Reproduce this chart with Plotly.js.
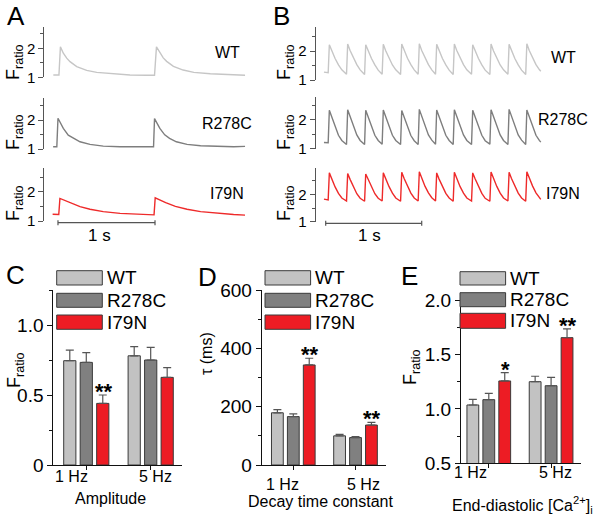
<!DOCTYPE html>
<html>
<head>
<meta charset="utf-8">
<script src="https://cdn.plot.ly/plotly-3.0.1.min.js"></script>
<style>html,body{margin:0;padding:0;background:#fff}#chart{width:601px;height:521px}</style>
</head>
<body>
<div id="chart"></div>
<script>
// ---------------- DATA ----------------
// Panel A: 1 Hz Ca transients (time in s, F ratio)
const tA_WT   = [-0.048, 0.010, 0.025, 0.055, 0.090, 0.124, 0.193, 0.296, 0.399, 0.570, 0.742, 0.914, 0.995, 1.015, 1.050, 1.085, 1.120, 1.190, 1.290, 1.400, 1.570, 1.740, 1.928];
const fA_WT   = [1.08, 1.08, 2.05, 1.83, 1.66, 1.54, 1.37, 1.24, 1.17, 1.12, 1.08, 1.07, 1.07, 2.05, 1.84, 1.67, 1.55, 1.38, 1.25, 1.17, 1.12, 1.09, 1.07];
const tA_R278C = [-0.050, -0.012, 0.000, 0.020, 0.055, 0.106, 0.158, 0.227, 0.330, 0.467, 0.640, 0.810, 0.985, 0.995, 1.015, 1.050, 1.100, 1.150, 1.220, 1.330, 1.470, 1.640, 1.810, 1.928];
const fA_R278C = [1.08, 1.08, 2.06, 1.94, 1.71, 1.48, 1.37, 1.25, 1.16, 1.10, 1.08, 1.08, 1.08, 2.05, 1.94, 1.71, 1.49, 1.37, 1.25, 1.16, 1.11, 1.09, 1.08, 1.09];
const tA_I79N = [-0.055, 0.008, 0.020, 0.055, 0.124, 0.227, 0.330, 0.467, 0.640, 0.810, 0.990, 1.002, 1.040, 1.110, 1.210, 1.330, 1.470, 1.640, 1.810, 1.928];
const fA_I79N = [1.23, 1.22, 1.77, 1.72, 1.62, 1.49, 1.40, 1.32, 1.26, 1.23, 1.21, 1.79, 1.73, 1.63, 1.50, 1.40, 1.32, 1.26, 1.22, 1.20];

// Panel B: 5 Hz Ca transients (shared time base)
const tB = [-0.018,
  0.026,0.038,0.063,0.098,0.133,0.168,
  0.217,0.229,0.254,0.289,0.324,0.359,
  0.405,0.417,0.442,0.477,0.512,0.547,
  0.588,0.600,0.625,0.660,0.695,0.730,
  0.780,0.792,0.817,0.852,0.887,0.922,
  0.963,0.975,1.000,1.035,1.070,1.105,
  1.144,1.156,1.181,1.216,1.251,1.286,
  1.328,1.340,1.365,1.400,1.435,1.470,
  1.519,1.531,1.556,1.591,1.626,1.661,
  1.710,1.722,1.747,1.782,1.817,1.852,
  1.898,1.910,1.935,1.970,2.005,2.040,
  2.083,2.095,2.120,2.155,2.190,2.225,
  2.240];
const fB_WT = [1.27,
  1.25,2.22,2.00,1.74,1.52,1.35,
  1.20,2.24,2.02,1.75,1.53,1.35,
  1.19,2.22,2.00,1.74,1.52,1.34,
  1.20,2.23,2.01,1.75,1.52,1.35,
  1.19,2.24,2.02,1.75,1.53,1.35,
  1.20,2.25,2.02,1.76,1.53,1.35,
  1.20,2.23,2.00,1.74,1.52,1.34,
  1.19,2.24,2.02,1.75,1.53,1.35,
  1.20,2.22,2.00,1.74,1.52,1.34,
  1.19,2.24,2.01,1.75,1.52,1.35,
  1.20,2.23,2.01,1.74,1.52,1.34,
  1.19,2.25,2.02,1.76,1.53,1.36,
  1.30];
const fB_R278C = [1.21,
  1.20,2.33,2.09,1.73,1.46,1.28,
  1.14,2.35,2.10,1.74,1.47,1.28,
  1.14,2.33,2.09,1.73,1.46,1.28,
  1.15,2.34,2.10,1.74,1.46,1.28,
  1.14,2.32,2.08,1.72,1.45,1.27,
  1.14,2.36,2.11,1.75,1.47,1.29,
  1.15,2.34,2.09,1.73,1.46,1.28,
  1.14,2.35,2.10,1.74,1.47,1.28,
  1.14,2.33,2.09,1.73,1.46,1.27,
  1.15,2.35,2.10,1.74,1.47,1.28,
  1.14,2.36,2.11,1.75,1.47,1.29,
  1.14,2.34,2.10,1.74,1.46,1.28,
  1.22];
const fB_I79N = [1.83,
  1.80,2.80,2.57,2.28,2.04,1.87,
  1.76,2.78,2.56,2.27,2.03,1.86,
  1.75,2.76,2.55,2.27,2.03,1.86,
  1.76,2.80,2.58,2.29,2.05,1.87,
  1.75,2.82,2.59,2.30,2.05,1.87,
  1.76,2.84,2.60,2.30,2.06,1.88,
  1.76,2.80,2.57,2.28,2.04,1.87,
  1.75,2.82,2.59,2.29,2.05,1.87,
  1.76,2.80,2.58,2.28,2.04,1.86,
  1.75,2.83,2.60,2.30,2.05,1.87,
  1.76,2.82,2.59,2.29,2.05,1.87,
  1.75,2.84,2.60,2.31,2.06,1.88,
  1.82];

// Bar panels
const freqs = ['1 Hz', '5 Hz'];
const genotypes = ['WT', 'R278C', 'I79N'];
const amp_WT = [0.745, 0.780],  amp_WT_err = [0.075, 0.065];
const amp_R278C = [0.733, 0.750], amp_R278C_err = [0.070, 0.090];
const amp_I79N = [0.440, 0.626], amp_I79N_err = [0.060, 0.070];
const amp_sig = ['**', ''];
const tau_WT = [179, 100], tau_WT_err = [11, 5];
const tau_R278C = [166, 94], tau_R278C_err = [9, 3];
const tau_I79N = [343, 137], tau_I79N_err = [23, 9];
const tau_sig = ['**', '**'];
const ed_WT = [1.036, 1.250], ed_WT_err = [0.052, 0.050];
const ed_R278C = [1.085, 1.213], ed_R278C_err = [0.058, 0.077];
const ed_I79N = [1.257, 1.655], ed_I79N_err = [0.076, 0.080];
const ed_sig = ['*', '**'];

// ---------------- STYLE ----------------
const W = 601, H = 521;
const X = p => p / W, Y = p => 1 - p / H;
const FONT = 'Liberation Sans, Arial, Helvetica, sans-serif';
const colTrace = {WT: '#c6c6c6', R278C: '#7e7e7e', I79N: '#ee2a2a'};
const colBar = {WT: '#c2c2c2', R278C: '#808080', I79N: '#ed1c24'};
const gx = [0, 1];
const BARGAP = 0.232, PITCH = (1 - BARGAP) / 3;

const traces = [];
function line(t, f, xa, ya, c) {
  traces.push({type: 'scatter', mode: 'lines', x: t, y: f, xaxis: xa, yaxis: ya,
    line: {color: c, width: 1.4}, hoverinfo: 'skip'});
}
line(tA_WT, fA_WT, 'x', 'y', colTrace.WT);
line(tA_R278C, fA_R278C, 'x', 'y2', colTrace.R278C);
line(tA_I79N, fA_I79N, 'x', 'y3', colTrace.I79N);
line(tB, fB_WT, 'x2', 'y4', colTrace.WT);
line(tB, fB_R278C, 'x2', 'y5', colTrace.R278C);
line(tB, fB_I79N, 'x2', 'y6', colTrace.I79N);

function bars(vals, errs, name, xa, ya) {
  traces.push({type: 'bar', x: gx, y: vals, name: name, xaxis: xa, yaxis: ya,
    marker: {color: colBar[name], line: {color: '#3a3a3a', width: 1}},
    error_y: {type: 'data', array: errs, arrayminus: [0, 0], symmetric: false,
      color: '#555', thickness: 1.2, width: 4}, hoverinfo: 'skip'});
}
bars(amp_WT, amp_WT_err, 'WT', 'x3', 'y7');
bars(amp_R278C, amp_R278C_err, 'R278C', 'x3', 'y7');
bars(amp_I79N, amp_I79N_err, 'I79N', 'x3', 'y7');
bars(tau_WT, tau_WT_err, 'WT', 'x4', 'y8');
bars(tau_R278C, tau_R278C_err, 'R278C', 'x4', 'y8');
bars(tau_I79N, tau_I79N_err, 'I79N', 'x4', 'y8');
bars(ed_WT, ed_WT_err, 'WT', 'x5', 'y9');
bars(ed_R278C, ed_R278C_err, 'R278C', 'x5', 'y9');
bars(ed_I79N, ed_I79N_err, 'I79N', 'x5', 'y9');

const hiddenX = {showline: false, showticklabels: false, ticks: '', showgrid: false, zeroline: false};
function traceY(dom, range, anchor) {
  return {domain: [Y(dom[1]), Y(dom[0])], range: range, anchor: anchor,
    showline: true, linecolor: '#555', linewidth: 1, ticks: 'outside', ticklen: 5, tickcolor: '#555',
    tickvals: [1, 2], ticktext: ['1', '2'], tickfont: {size: 15, color: '#000'},
    minor: {tickvals: [1.5, 2.5], ticks: 'outside', ticklen: 3, tickcolor: '#555'},
    showgrid: false, zeroline: false};
}
function barX(dom, range, anchor) {
  return {domain: [X(dom[0]), X(dom[1])], range: range, anchor: anchor,
    showline: true, linecolor: '#111', linewidth: 1, ticks: 'outside', ticklen: 4, tickcolor: '#111',
    tickvals: gx, showticklabels: false, showgrid: false, zeroline: false};
}
function barY(dom, range, anchor, tv, tt, mv) {
  return {domain: [Y(dom[1]), Y(dom[0])], range: range, anchor: anchor,
    showline: true, linecolor: '#111', linewidth: 1, ticks: 'outside', ticklen: 5, tickcolor: '#111',
    tickvals: tv, ticktext: tt, tickfont: {size: 19, color: '#000'},
    minor: {tickvals: mv, ticks: 'outside', ticklen: 3, tickcolor: '#111'},
    showgrid: false, zeroline: false};
}

const layout = {
  width: W, height: H, margin: {l: 0, r: 0, t: 0, b: 0},
  paper_bgcolor: '#fff', plot_bgcolor: 'rgba(0,0,0,0)', showlegend: false,
  font: {family: FONT, color: '#000', size: 16},
  barmode: 'group', bargap: BARGAP, bargroupgap: 0.26,
  xaxis: Object.assign({domain: [X(44.3), X(250)], range: [-0.141, 1.979], anchor: 'y3'}, hiddenX),
  xaxis2: Object.assign({domain: [X(315.7), X(545)], range: [-0.104, 2.284], anchor: 'y6'}, hiddenX),
  yaxis: traceY([26.7, 77.3], [1, 2.745], 'x'),
  yaxis2: traceY([98, 149], [1, 2.76], 'x'),
  yaxis3: traceY([168.3, 221], [1, 2.8], 'x'),
  yaxis4: traceY([26.7, 80], [1, 2.84], 'x2'),
  yaxis5: traceY([96.7, 148.5], [1, 2.8], 'x2'),
  yaxis6: traceY([168.3, 221.5], [1, 2.97], 'x2'),
  xaxis3: barX([53.3, 182], [-0.512, 1.486], 'y7'),
  yaxis7: barY([290, 465], [0, 1.25], 'x3', [0, 0.5, 1.0], ['0', '0.5', '1.0'], [0.25, 0.75, 1.25]),
  xaxis4: barX([261.7, 386], [-0.508, 1.49], 'y8'),
  yaxis8: barY([290, 465], [0, 600], 'x4', [0, 200, 400, 600], ['0', '200', '400', '600'], [100, 300, 500]),
  xaxis5: barX([461, 581], [-0.446, 1.48], 'y9'),
  yaxis9: barY([293.3, 463.3], [0.5, 2.0625], 'x5', [0.5, 1.0, 1.5, 2.0], ['0.5', '1.0', '1.5', '2.0'], [0.75, 1.25, 1.75]),
  shapes: [], annotations: []
};

const ann = layout.annotations, shp = layout.shapes;
function txt(x, y, text, size, opts) {
  ann.push(Object.assign({xref: 'paper', yref: 'paper', x: X(x), y: Y(y), text: text, showarrow: false,
    font: {size: size, family: FONT, color: '#000'}, xanchor: 'center', yanchor: 'middle'}, opts || {}));
}
// panel letters
txt(15.5, 16, 'A', 26); txt(281, 16, 'B', 26); txt(15, 275, 'C', 26); txt(207, 277, 'D', 26); txt(410, 276, 'E', 26);
// trace labels
[['WT', 52], ['R278C', 123], ['I79N', 193]].forEach(r => txt(227, r[1], r[0], 16));
[['WT', 58], ['R278C', 120], ['I79N', 193]].forEach(r => txt(563, r[1], r[0], 16));
// F ratio y titles for traces
[62, 132, 203].forEach(y => { txt(15, y, 'F<sub>ratio</sub>', 18, {textangle: -90}); txt(286, y, 'F<sub>ratio</sub>', 18, {textangle: -90}); });
// scale bars
function scalebar(xa, ypx) {
  shp.push({type: 'line', xref: xa, yref: 'paper', x0: 0, x1: 1, y0: Y(ypx), y1: Y(ypx), line: {color: '#555', width: 1.2}});
  [0, 1].forEach(v => shp.push({type: 'line', xref: xa, yref: 'paper', x0: v, x1: v, y0: Y(ypx - 2.5), y1: Y(ypx + 2.5), line: {color: '#555', width: 1.2}}));
}
scalebar('x', 222.7); scalebar('x2', 223.3);
txt(99, 235, '1 s', 17); txt(369, 235, '1 s', 17);

// legends for bar panels
function legend(x0, rows, tx) {
  genotypes.forEach((g, i) => {
    shp.push({type: 'rect', xref: 'paper', yref: 'paper', layer: 'above', x0: X(x0), x1: X(x0 + 45.6),
      y0: Y(rows[i][1]), y1: Y(rows[i][0]), fillcolor: colBar[g], line: {color: '#3a3a3a', width: 1}});
    txt(tx, (rows[i][0] + rows[i][1]) / 2, g, 19, {xanchor: 'left'});
  });
}
legend(56.7, [[270.7, 285], [293.3, 307.3], [315, 329.3]], 105);
legend(265, [[270.7, 285], [293.3, 307.3], [315, 329.3]], 313);
legend(460, [[271.7, 285], [292.7, 306.7], [313.3, 328.3]], 508);

// x tick labels (group labels)
function groupLabels(xa, ypx, shifts) {
  freqs.forEach((f, i) => ann.push({xref: xa, yref: 'paper', x: gx[i], y: Y(ypx), xshift: shifts[i], text: f, showarrow: false,
    font: {size: 16, family: FONT, color: '#000'}, xanchor: 'center', yanchor: 'middle'}));
}
groupLabels('x3', 476.7, [-15, 5]);
groupLabels('x4', 484.5, [-11, 7.5]);
groupLabels('x5', 472, [-18, 4]);
// axis titles
txt(110.8, 498.3, 'Amplitude', 16);
txt(320.8, 501, 'Decay time constant', 16);
txt(522.5, 505, 'End-diastolic [Ca<sup>2+</sup>]<sub>i</sub>', 16);
txt(15, 370, 'F<sub>ratio</sub>', 18, {textangle: -90});
txt(206, 353, 'τ (ms)', 16, {textangle: -90});
txt(411, 367, 'F<sub>ratio</sub>', 18, {textangle: -90});

// significance marks
function sig(marks, vals, errs, xa, ya) {
  marks.forEach((m, i) => { if (m) ann.push({xref: xa, yref: ya, x: gx[i] + PITCH, y: vals[i] + errs[i], text: '<b>' + m + '</b>',
    showarrow: false, font: {size: 22, family: FONT, color: '#000'}, xanchor: 'center', yanchor: 'bottom', yshift: -11, xshift: 1}); });
}
sig(amp_sig, amp_I79N, amp_I79N_err, 'x3', 'y7');
sig(tau_sig, tau_I79N, tau_I79N_err, 'x4', 'y8');
sig(ed_sig, ed_I79N, ed_I79N_err, 'x5', 'y9');

Plotly.newPlot('chart', traces, layout, {staticPlot: true, displayModeBar: false});
</script>
</body>
</html>
